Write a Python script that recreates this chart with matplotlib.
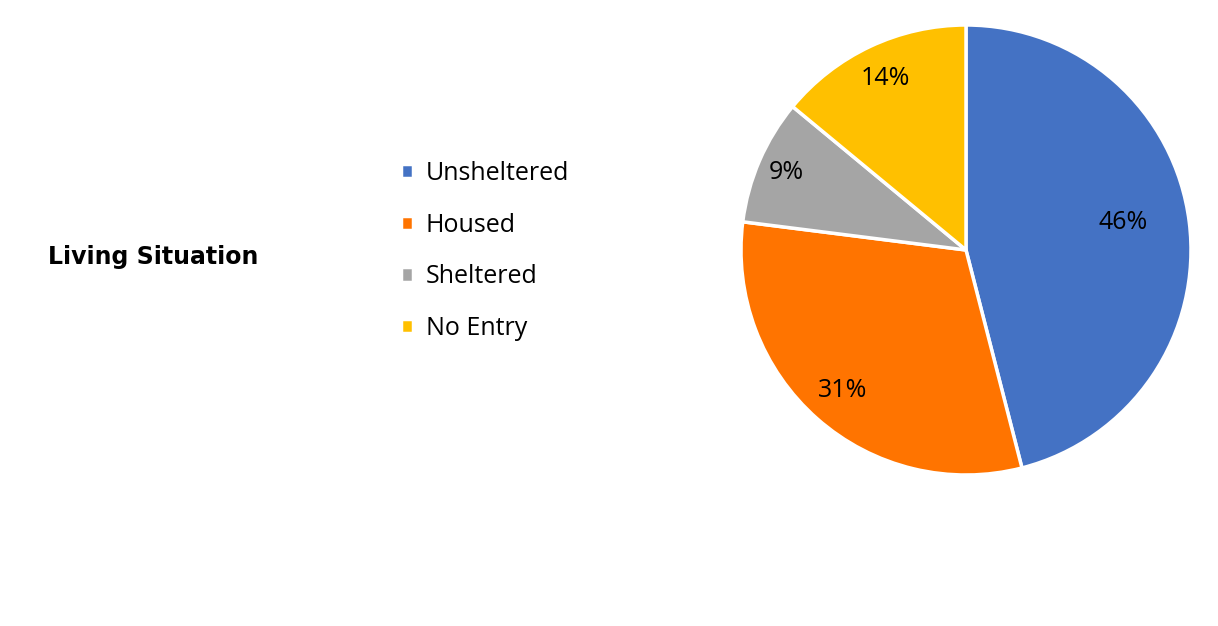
import numpy as np
import matplotlib
matplotlib.use("Agg")
import matplotlib.pyplot as plt

# data
categories = ["Unsheltered", "Housed", "Sheltered", "No Entry"]
shares = [46, 31, 9, 14]
colors = ["#4472C4", "#FF7400", "#A5A5A5", "#FFC000"]
title = "Living Situation"

plt.rcParams['font.family'] = ['Open Sans', 'DejaVu Sans']

fig = plt.figure(figsize=(12.18, 6.26), dpi=100)
fig.patch.set_facecolor("white")

# pie axes: centre ~ (966, 250) px, radius ~225 px
ax = fig.add_axes([741/1218, (626-475)/626, 450/1218, 450/626])
wedges, _ = ax.pie(shares, colors=colors, startangle=90, counterclock=False,
                   wedgeprops=dict(edgecolor="white", linewidth=2.5))
ax.set_xlim(-1, 1)
ax.set_ylim(-1, 1)
ax.set_aspect("equal")
ax.axis("off")

# percent labels placed like Excel's best fit
label_r = [0.71, 0.83, 0.87, 0.84]
label_shift = [0.05, 0, 0, 0]  # small angle tweak (rad) for the big slice
for w, s, r, d in zip(wedges, shares, label_r, label_shift):
    mid = np.deg2rad((w.theta1 + w.theta2) / 2) + d
    ax.text(r*np.cos(mid), r*np.sin(mid), f"{s}%", ha="center", va="center",
            fontsize=18, color="black")

# legend
fig.legend(wedges, categories, loc="center left",
           bbox_to_anchor=(388/1218, (626-251)/626), frameon=False,
           fontsize=18, handlelength=0.5, handleheight=0.5,
           handletextpad=0.5, labelspacing=1.07, borderpad=0)

# title
fig.text(48/1218, (626-257)/626, title, fontsize=17, fontweight="bold",
         family=["DejaVu Sans"], ha="left", va="center")

fig.savefig("out.png", dpi=100)
